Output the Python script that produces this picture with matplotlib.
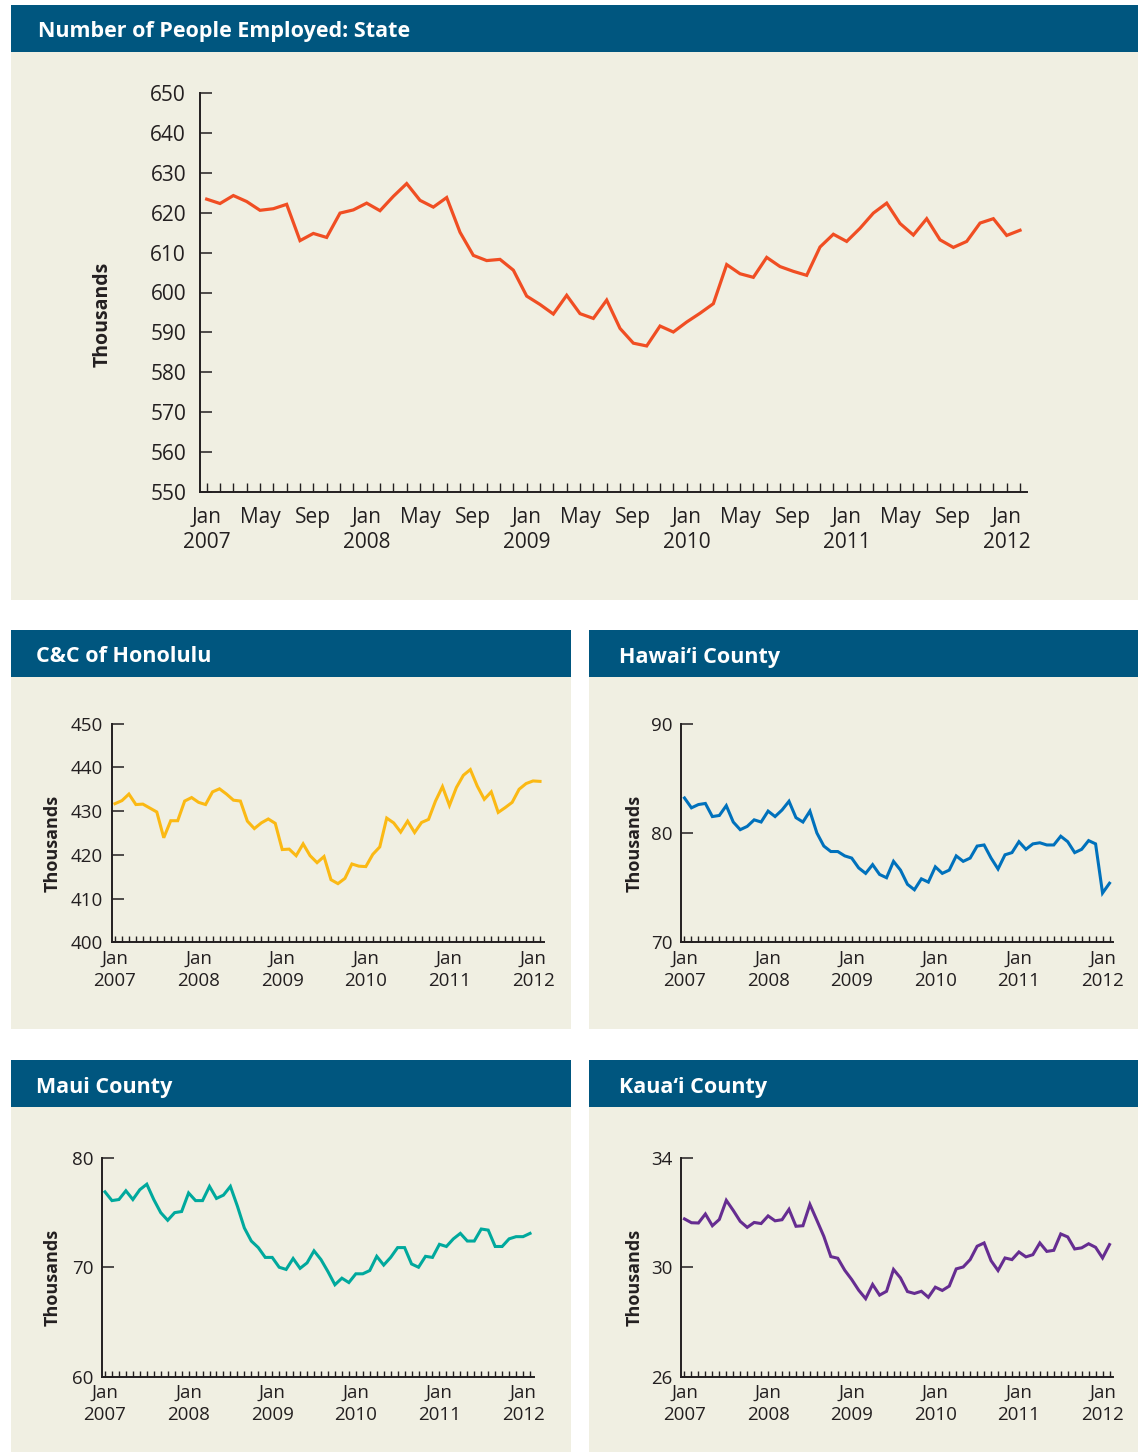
import matplotlib
matplotlib.use('Agg')
import matplotlib.pyplot as plt
from matplotlib.patches import Rectangle

plt.rcParams['font.family'] = ['Open Sans', 'DejaVu Sans']

# monthly values, Jan 2007 - Feb 2012 (thousands)
state = [623.4, 622.3, 624.3, 622.8, 620.6, 621.0, 622.1, 613.0, 614.8, 613.8,
         619.9, 620.7, 622.4, 620.5, 624.1, 627.3, 623.1, 621.4, 623.8, 615.1,
         609.3, 608.0, 608.3, 605.6, 599.1, 597.0, 594.6, 599.3, 594.7, 593.5,
         598.1, 591.0, 587.3, 586.6, 591.6, 590.1, 592.6, 594.8, 597.2, 607.0,
         604.7, 603.8, 608.8, 606.5, 605.3, 604.3, 611.4, 614.6, 612.8, 616.1,
         619.9, 622.4, 617.3, 614.4, 618.5, 613.2, 611.3, 612.8, 617.4, 618.5,
         614.3, 615.6]
honolulu = [431.7, 432.4, 433.9, 431.5, 431.6, 430.7, 429.8, 423.9, 427.8, 427.8,
            432.3, 433.1, 432.0, 431.5, 434.4, 435.1, 433.9, 432.5, 432.3, 427.7,
            426.0, 427.3, 428.2, 427.2, 421.2, 421.3, 419.8, 422.5, 419.8, 418.2,
            419.6, 414.3, 413.4, 414.6, 417.9, 417.4, 417.3, 420.1, 421.8, 428.4,
            427.3, 425.2, 427.7, 425.1, 427.4, 428.1, 432.3, 435.6, 431.3, 435.4,
            438.2, 439.5, 435.7, 432.7, 434.4, 429.7, 430.8, 432.0, 435.0, 436.3,
            436.9, 436.8]
hawaii = [83.2, 82.3, 82.6, 82.7, 81.5, 81.6, 82.5, 81.0, 80.3, 80.6,
          81.2, 81.0, 82.0, 81.5, 82.1, 82.9, 81.4, 81.0, 82.0, 80.0,
          78.8, 78.3, 78.3, 77.9, 77.7, 76.8, 76.3, 77.1, 76.2, 75.9,
          77.4, 76.6, 75.3, 74.8, 75.8, 75.5, 76.9, 76.3, 76.6, 77.9,
          77.4, 77.7, 78.8, 78.9, 77.7, 76.7, 78.0, 78.2, 79.2, 78.5,
          79.0, 79.1, 78.9, 78.9, 79.7, 79.2, 78.2, 78.5, 79.3, 79.0,
          74.5, 75.4]
maui = [76.9, 76.1, 76.2, 77.0, 76.2, 77.1, 77.6, 76.2, 75.0, 74.3,
        75.0, 75.1, 76.8, 76.1, 76.1, 77.4, 76.3, 76.6, 77.4, 75.6,
        73.6, 72.4, 71.8, 70.9, 70.9, 70.0, 69.8, 70.8, 69.9, 70.4,
        71.5, 70.7, 69.6, 68.4, 69.0, 68.6, 69.4, 69.4, 69.7, 71.0,
        70.2, 70.9, 71.8, 71.8, 70.3, 70.0, 71.0, 70.9, 72.1, 71.9,
        72.6, 73.1, 72.4, 72.4, 73.5, 73.4, 71.9, 71.9, 72.6, 72.8,
        72.8, 73.1]
kauai = [31.77, 31.63, 31.62, 31.95, 31.52, 31.75, 32.45, 32.08, 31.68, 31.46,
         31.64, 31.60, 31.88, 31.70, 31.74, 32.12, 31.50, 31.52, 32.30, 31.72,
         31.13, 30.39, 30.33, 29.89, 29.55, 29.16, 28.85, 29.37, 28.98, 29.12,
         29.92, 29.61, 29.11, 29.04, 29.12, 28.90, 29.27, 29.15, 29.31, 29.94,
         30.01, 30.28, 30.77, 30.89, 30.24, 29.88, 30.34, 30.28, 30.56, 30.38,
         30.46, 30.89, 30.58, 30.62, 31.22, 31.11, 30.67, 30.71, 30.86, 30.73,
         30.34, 30.83]

years = ['2007', '2008', '2009', '2010', '2011', '2012']
months = ['Jan', 'May', 'Sep']

HEADER = '#00567f'
PANEL = '#f0efe2'
INK = '#231f20'
W, H = 1138, 1452

fig = plt.figure(figsize=(W / 100, H / 100), dpi=100)
fig.patch.set_facecolor('white')


def box(x, y, w, h):
    # pixel box (top-left origin) -> figure fraction
    return [x / W, 1 - (y + h) / H, w / W, h / H]


def panel(x, y, w, h, title, tx):
    fig.add_artist(Rectangle(box(x, y, w, 47)[:2], w / W, 47 / H,
                             transform=fig.transFigure, color=HEADER, lw=0, zorder=0))
    fig.add_artist(Rectangle(box(x, y + 47, w, h - 47)[:2], w / W, (h - 47) / H,
                             transform=fig.transFigure, color=PANEL, lw=0, zorder=0))
    fig.text(tx / W, 1 - (y + 27) / H, title, color='white', fontsize=15.5,
             fontweight='bold', va='center', ha='left')


def style(ax, ylim, yticks, fs, ticklen, ypad, xpad):
    ax.set_facecolor(PANEL)
    for s in ['top', 'right']:
        ax.spines[s].set_visible(False)
    for s in ['left', 'bottom']:
        ax.spines[s].set_linewidth(1.4)
        ax.spines[s].set_color(INK)
    ax.set_xlim(-0.5, 61.5)
    ax.set_ylim(*ylim)
    ax.set_yticks(yticks)
    ax.tick_params(axis='y', direction='in', length=8.5, width=1.1, colors=INK,
                   labelsize=fs, pad=ypad)
    ax.tick_params(axis='x', direction='in', length=ticklen, width=1.0, colors=INK,
                   labelsize=fs, pad=xpad)
    for t in ax.get_xticklabels() + ax.get_yticklabels():
        t.set_color(INK)


# ---- state (top) ----
panel(11, 5, 1127, 595, 'Number of People Employed: State', 38)
ax = fig.add_axes(box(200, 93, 826.7, 399))
x = list(range(len(state)))
ax.plot(x, state, color='#f04e23', lw=2.3, solid_joinstyle='miter')
labels = []
for i in x:
    if i % 12 == 0:
        labels.append('Jan\n' + years[i // 12])
    elif i % 4 == 0:
        labels.append(months[(i % 12) // 4])
    else:
        labels.append('')
ax.set_xticks(x)
ax.set_xticklabels(labels, va='top', linespacing=1.22)
style(ax, (550, 650), range(550, 651, 10), 15, 6.5, 10, 11)
ax.set_ylabel('Thousands', fontsize=14, fontweight='bold', color=INK)
ax.yaxis.set_label_coords(-0.106, 0.445)

# ---- counties ----
counties = [
    ('C&C of Honolulu', honolulu, '#fbb914', (400, 450), range(400, 451, 10),
     (11, 630), 36, 111.5, 723.7, -0.115),
    ('Hawai\u2018i County', hawaii, '#0071bc', (70, 90), [70, 80, 90],
     (589, 630), 619, 681, 723.7, -0.086),
    ('Maui County', maui, '#00a99d', (60, 80), [60, 70, 80],
     (11, 1060), 36, 101.5, 1158, -0.092),
    ('Kaua\u2018i County', kauai, '#662d91', (26, 34), [26, 30, 34],
     (589, 1060), 619, 681, 1158, -0.086),
]

for name, vals, col, ylim, yt, (px, py), tx, axl, axt, lx in counties:
    ph = 1029 - 630 if py == 630 else H - 1060
    panel(px, py, 560 if px == 11 else 549, ph, name, tx)
    ax = fig.add_axes(box(axl, axt, 432, 218.5))
    x = list(range(len(vals)))
    ax.plot(x, vals, color=col, lw=2.2, solid_joinstyle='miter')
    ax.set_xticks(x)
    ax.set_xticklabels(['Jan\n' + years[i // 12] if i % 12 == 0 else '' for i in x],
                       va='top', linespacing=1.3)
    style(ax, ylim, yt, 13.5, 4, 6, 5.5)
    ax.set_ylabel('Thousands', fontsize=13, fontweight='bold', color=INK)
    ax.yaxis.set_label_coords(lx, 0.453)

fig.savefig('out.png', dpi=100, facecolor='white')
